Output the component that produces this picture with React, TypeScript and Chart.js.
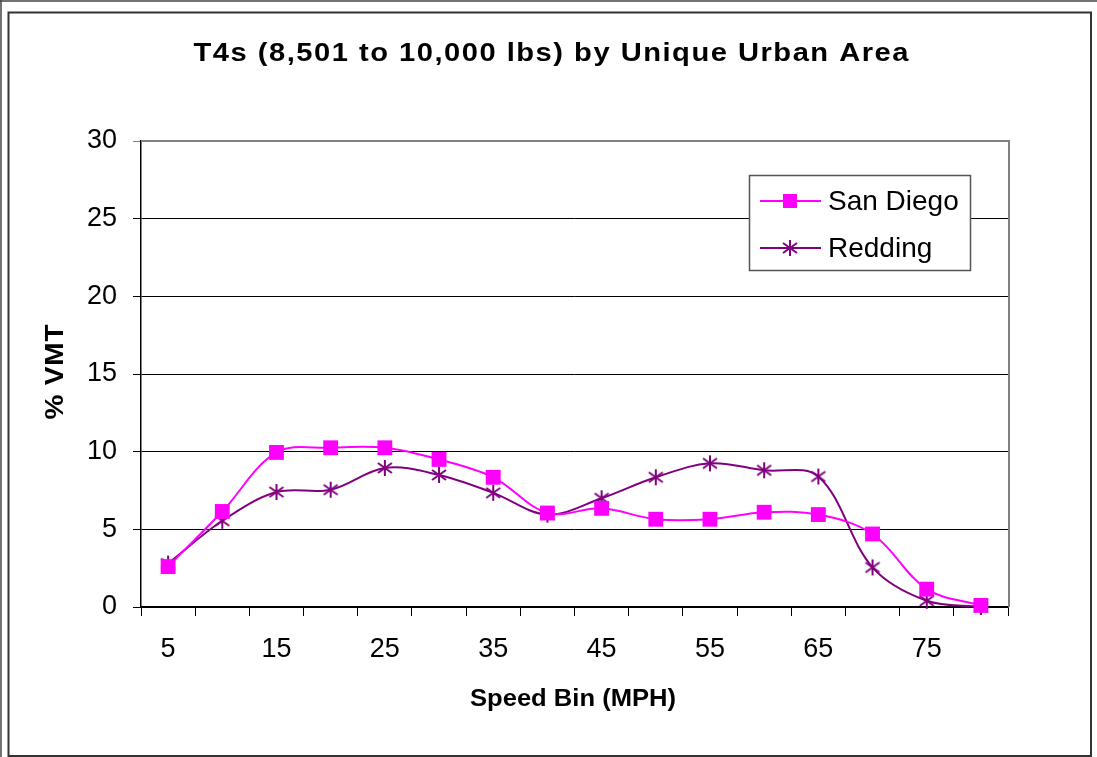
import React, { useEffect, useRef } from "react";
import { Chart, registerables } from "chart.js";

Chart.register(...registerables);

const categories = ["5", "10", "15", "20", "25", "30", "35", "40", "45", "50", "55", "60", "65", "70", "75", "80"];
const sanDiego = [2.6, 6.15, 9.95, 10.25, 10.25, 9.5, 8.35, 6.05, 6.35, 5.65, 5.65, 6.1, 5.95, 4.7, 1.15, 0.1];
const redding = [2.8, 5.55, 7.4, 7.55, 8.95, 8.5, 7.35, 5.95, 7.0, 8.35, 9.25, 8.8, 8.4, 2.55, 0.4, 0.0];
const seriesNames = ["San Diego", "Redding"];
const yTicks = [0, 5, 10, 15, 20, 25, 30];
const titleText = "T4s (8,501 to 10,000 lbs) by Unique Urban Area";
const xTitle = "Speed Bin (MPH)";
const yTitle = "% VMT";

const FONT = '"Liberation Sans", Arial, sans-serif';
const SD_COLOR = "#FF00FF";
const RD_COLOR = "#800080";

function makeAsterisk(color: string): HTMLCanvasElement {
  const c = document.createElement("canvas");
  c.width = 18;
  c.height = 18;
  const g = c.getContext("2d")!;
  g.strokeStyle = color;
  g.lineWidth = 2;
  g.beginPath();
  g.moveTo(9, 1);
  g.lineTo(9, 17);
  g.moveTo(2, 4);
  g.lineTo(16, 14);
  g.moveTo(16, 4);
  g.lineTo(2, 14);
  g.stroke();
  return c;
}

function drawWideText(ctx: any, text: string, x: number, y: number, font: string, target: number, rot = 0) {
  ctx.save();
  ctx.translate(x, y);
  if (rot) ctx.rotate(rot);
  ctx.font = font;
  ctx.letterSpacing = "0px";
  const w = ctx.measureText(text).width;
  const sx = Math.min(1.12, target / w);
  const rest = target / sx - w;
  const sp = rest > 0 ? rest / (text.length - 1) : 0;
  ctx.scale(sx, 1);
  ctx.letterSpacing = `${sp}px`;
  ctx.textAlign = "left";
  ctx.textBaseline = "alphabetic";
  ctx.fillStyle = "#000";
  ctx.fillText(text, -target / sx / 2, 0);
  ctx.restore();
}

export default function App() {
  const ref = useRef<HTMLCanvasElement | null>(null);

  useEffect(() => {
    const canvas = ref.current!;
    const star = makeAsterisk(RD_COLOR);

    const decor = {
      id: "decor",
      beforeDraw(chart: any) {
        const ctx = chart.ctx;
        ctx.save();
        ctx.fillStyle = "#fff";
        ctx.fillRect(0, 0, chart.width, chart.height);
        ctx.restore();
      },
      beforeDatasetsDraw(chart: any) {
        const { ctx, chartArea: a } = chart;
        ctx.save();
        ctx.strokeStyle = "#808080";
        ctx.lineWidth = 2;
        ctx.beginPath();
        ctx.moveTo(a.left, a.top);
        ctx.lineTo(a.right + 1, a.top);
        ctx.lineTo(a.right + 1, a.bottom);
        ctx.stroke();
        ctx.restore();
      },
      afterDraw(chart: any) {
        const { ctx } = chart;
        ctx.save();
        // frames
        ctx.strokeStyle = "#444";
        ctx.lineWidth = 1.5;
        ctx.beginPath();
        ctx.moveTo(0, 1);
        ctx.lineTo(chart.width, 1);
        ctx.moveTo(1, 0);
        ctx.lineTo(1, chart.height);
        ctx.stroke();
        ctx.strokeStyle = "#333";
        ctx.lineWidth = 2;
        ctx.strokeRect(8.5, 12.5, 1082.5, 743.5);

        drawWideText(ctx, titleText, 551, 61, `bold 26px ${FONT}`, 715);
        drawWideText(ctx, xTitle, 573, 706, `bold 23px ${FONT}`, 206);
        drawWideText(ctx, yTitle, 63, 372, `bold 25px ${FONT}`, 95, -Math.PI / 2);

        // legend
        const lx = 749, ly = 175, lw = 221, lh = 95;
        ctx.fillStyle = "#fff";
        ctx.fillRect(lx, ly, lw, lh);
        ctx.strokeStyle = "#555";
        ctx.lineWidth = 1.5;
        ctx.strokeRect(lx + 0.5, ly + 0.5, lw, lh);

        const rows = [201, 248];
        const colors = [SD_COLOR, RD_COLOR];
        rows.forEach((y, i) => {
          ctx.strokeStyle = colors[i];
          ctx.lineWidth = 2;
          ctx.beginPath();
          ctx.moveTo(760, y);
          ctx.lineTo(821, y);
          ctx.stroke();
          if (i === 0) {
            ctx.fillStyle = SD_COLOR;
            ctx.fillRect(790 - 7, y - 7, 14, 14);
          } else {
            ctx.drawImage(star, 790 - 9, y - 9);
          }
          ctx.fillStyle = "#000";
          ctx.font = `28px ${FONT}`;
          ctx.textAlign = "left";
          ctx.textBaseline = "middle";
          ctx.fillText(seriesNames[i], 828, y + 1);
        });
        ctx.restore();
      },
    };

    const chart = new Chart(canvas, {
      type: "line",
      data: {
        labels: categories,
        datasets: [
          {
            label: seriesNames[0],
            data: sanDiego,
            borderColor: SD_COLOR,
            backgroundColor: SD_COLOR,
            borderWidth: 2,
            tension: 0.35,
            pointStyle: "rect",
            pointRadius: 10.5,
            pointBorderWidth: 0,
            pointBackgroundColor: SD_COLOR,
            clip: false as any,
          },
          {
            label: seriesNames[1],
            data: redding,
            borderColor: RD_COLOR,
            backgroundColor: RD_COLOR,
            borderWidth: 2,
            tension: 0.35,
            pointStyle: star as any,
            pointRadius: 9,
            clip: false as any,
          },
        ],
      },
      plugins: [decor],
      options: {
        responsive: false,
        animation: false,
        devicePixelRatio: 1,
        layout: { padding: { top: 141, right: 89, bottom: 0, left: 0 } },
        plugins: {
          legend: { display: false },
          title: { display: false },
          tooltip: { enabled: false },
        },
        scales: {
          x: {
            type: "category",
            offset: true,
            grid: {
              offset: true,
              drawOnChartArea: false,
              drawTicks: true,
              tickLength: 9,
              color: "#000",
            },
            border: { display: true, color: "#000", width: 1.5 },
            ticks: {
              autoSkip: false,
              maxRotation: 0,
              padding: 17,
              color: "#000",
              font: { family: FONT, size: 27 },
              callback: (_v: any, i: number) => (i % 2 === 0 ? categories[i] : ""),
            },
            afterFit: (s: any) => {
              s.height = 150;
            },
          },
          y: {
            min: 0,
            max: 30,
            afterBuildTicks: (s: any) => {
              s.ticks = yTicks.map((v) => ({ value: v }));
            },
            grid: {
              color: (c: any) => (c.tick && c.tick.value === 30 ? "#808080" : "#000"),
              lineWidth: 1,
              tickLength: 8,
            },
            border: { display: true, color: "#000", width: 1.5 },
            ticks: {
              padding: 16,
              color: "#000",
              font: { family: FONT, size: 27 },
            },
            afterFit: (s: any) => {
              s.width = 141;
            },
          },
        },
      },
    } as any);

    return () => chart.destroy();
  }, []);

  return (
    <div style={{ position: "fixed", left: 0, top: 0, width: 1097, height: 757, background: "#fff" }}>
      <canvas ref={ref} width={1097} height={757} style={{ display: "block", width: 1097, height: 757 }} />
    </div>
  );
}
